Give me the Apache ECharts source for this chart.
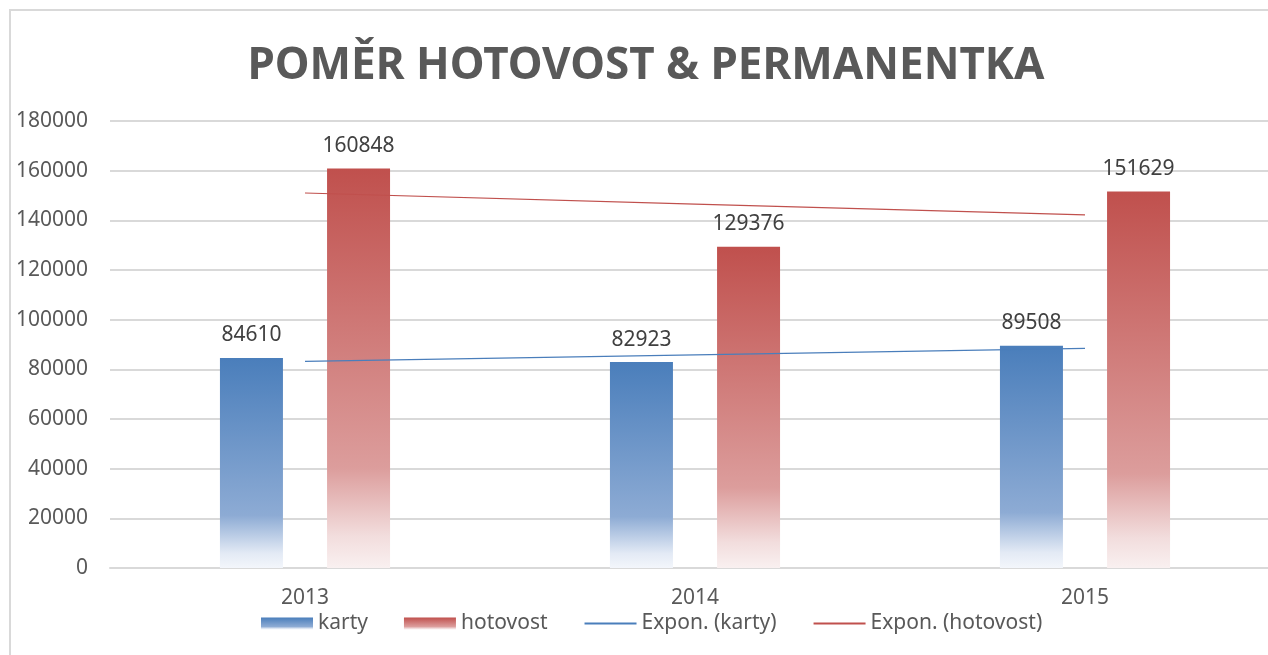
<!DOCTYPE html>
<html>
<head>
<meta charset="utf-8">
<script src="https://cdn.jsdelivr.net/npm/echarts@6/dist/echarts.min.js"></script>
<style>
html,body{margin:0;padding:0;background:#fff;}
#c{width:1268px;height:655px;}
</style>
</head>
<body>
<div id="c"></div>
<script>
const categories = ['2013', '2014', '2015'];
const karty = [84610, 82923, 89508];
const hotovost = [160848, 129376, 151629];
const trendKarty = [83200, 85800, 88400];
const trendHotovost = [151000, 146500, 142200];
const yTicks = { min: 0, max: 180000, interval: 20000 };

const FONT = 'Noto Sans';
const chart = echarts.init(document.getElementById('c'), null, { renderer: 'canvas' });

const blueGrad = new echarts.graphic.LinearGradient(0, 0, 0, 1, [
  { offset: 0, color: '#4a7ebb' },
  { offset: 0.75, color: '#8dabd4' },
  { offset: 0.93, color: '#e3eaf5' },
  { offset: 1, color: '#f3f6fb' }
]);
const redGrad = new echarts.graphic.LinearGradient(0, 0, 0, 1, [
  { offset: 0, color: '#c0504d' },
  { offset: 0.75, color: '#dc9d9c' },
  { offset: 0.92, color: '#f2dddd' },
  { offset: 1, color: '#f9f0f0' }
]);

const labelStyle = { show: true, position: 'top', distance: 12, color: '#404040', fontFamily: FONT, fontSize: 21 };

chart.setOption({
  backgroundColor: '#ffffff',
  animation: false,
  graphic: [{
    type: 'rect', z: -10, silent: true,
    shape: { x: 10, y: 10, width: 1400, height: 800 },
    style: { fill: 'none', stroke: '#d9d9d9', lineWidth: 2 }
  }],
  title: {
    text: 'POMĚR HOTOVOST & PERMANENTKA',
    left: 641, textAlign: 'center', top: 39,
    textStyle: { fontFamily: FONT, fontSize: 44, fontWeight: 'bold', color: '#595959' }
  },
  legend: {
    bottom: 16, left: 256,
    itemGap: 36, itemWidth: 52, itemHeight: 12,
    textStyle: { fontFamily: FONT, fontSize: 21, color: '#595959' },
    data: [
      { name: 'karty', icon: 'rect' },
      { name: 'hotovost', icon: 'rect' },
      { name: 'Expon. (karty)', itemStyle: { opacity: 0 } },
      { name: 'Expon. (hotovost)', itemStyle: { opacity: 0 } }
    ]
  },
  grid: { left: 110, top: 121, width: 1170, height: 447, containLabel: false, outerBoundsMode: 'none' },
  xAxis: {
    type: 'category', data: categories,
    axisLine: { show: true, lineStyle: { color: '#d9d9d9', width: 2 } },
    axisTick: { show: false },
    axisLabel: { margin: 20, fontFamily: FONT, fontSize: 21, color: '#595959' }
  },
  yAxis: {
    type: 'value', min: yTicks.min, max: yTicks.max, interval: yTicks.interval,
    axisLine: { show: false }, axisTick: { show: false },
    axisLabel: { margin: 22, fontFamily: FONT, fontSize: 21, color: '#595959', formatter: v => String(v) },
    splitLine: { lineStyle: { color: '#d9d9d9', width: 2 } }
  },
  series: [
    { name: 'karty', type: 'bar', data: karty, barWidth: 63, barGap: '70%',
      itemStyle: { color: blueGrad }, label: labelStyle },
    { name: 'hotovost', type: 'bar', data: hotovost, barWidth: 63, barGap: '70%',
      itemStyle: { color: redGrad }, label: labelStyle },
    { name: 'Expon. (karty)', type: 'line', data: trendKarty, symbol: 'none',
      lineStyle: { color: '#4a7ebb', width: 1.2 }, itemStyle: { color: '#4a7ebb' }, z: 5 },
    { name: 'Expon. (hotovost)', type: 'line', data: trendHotovost, symbol: 'none',
      lineStyle: { color: '#c0504d', width: 1.2 }, itemStyle: { color: '#c0504d' }, z: 5 }
  ]
});
</script>
</body>
</html>
